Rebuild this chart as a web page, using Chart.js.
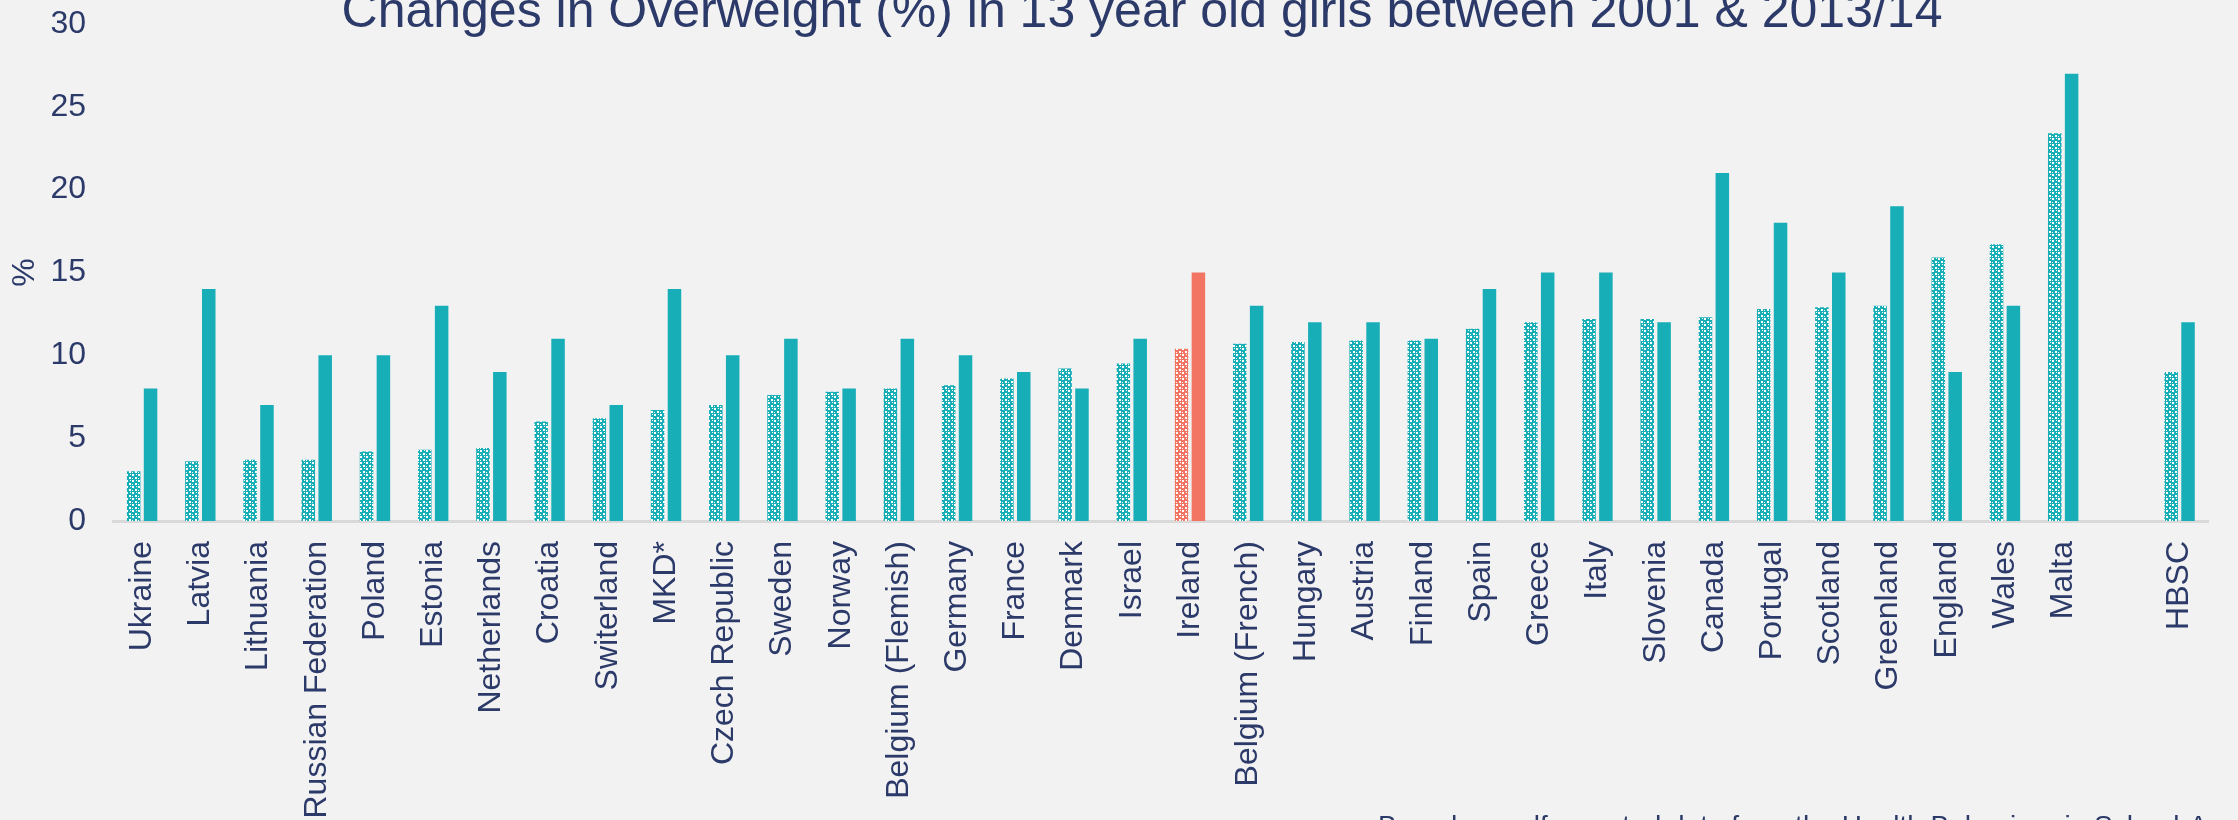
<!DOCTYPE html>
<html><head><meta charset="utf-8">
<script src="https://cdn.jsdelivr.net/npm/chart.js@4.4.1/dist/chart.umd.min.js"></script>
<style>
html,body{margin:0;padding:0;background:#F2F2F2;overflow:hidden;}
#wrap{position:relative;width:2238px;height:820px;}
</style></head><body>
<div id="wrap"><canvas id="c"></canvas></div>
<script>
const categories = ['Ukraine','Latvia','Lithuania','Russian Federation','Poland','Estonia','Netherlands','Croatia','Switerland','MKD*','Czech Republic','Sweden','Norway','Belgium (Flemish)','Germany','France','Denmark','Israel','Ireland','Belgium (French)','Hungary','Austria','Finland','Spain','Greece','Italy','Slovenia','Canada','Portugal','Scotland','Greenland','England','Wales','Malta','','HBSC'];
const overweight2001 = [3.0,3.6,3.7,3.7,4.2,4.3,4.4,6.0,6.2,6.7,7.0,7.6,7.8,8.0,8.2,8.6,9.2,9.5,10.4,10.7,10.8,10.9,10.9,11.6,12.0,12.2,12.2,12.3,12.8,12.9,13.0,15.9,16.7,23.4,null,9.0];
const overweight2013 = [8,14,7,10,10,13,9,11,7,14,10,11,8,11,10,9,8,11,15,13,12,12,11,14,15,15,12,21,18,15,19,9,13,27,null,12];
const yMin = 0, yMax = 30, yStep = 5;
const highlight = 'Ireland';
const titleText = 'Changes in Overweight (%) in 13 year old girls between 2001 & 2013/14';
const sourceText = 'Based on self-reported data from the Health Behaviour in School-Aged Children (HBSC) study';

const TEAL = '#17AEB7', RED = '#F27563', NAVY = '#2C3A69', FONT = "'Liberation Sans', Arial, sans-serif";

function makePattern(color){
  const t = document.createElement('canvas');
  t.width = 6; t.height = 6;
  const g = t.getContext('2d');
  g.fillStyle = color; g.fillRect(0,0,6,6);
  g.fillStyle = '#FFFFFF';
  g.fillRect(0,0,2,2);
  g.fillRect(3,3,2,2);
  g.fillRect(0,4,1,1);
  g.fillRect(4,0,1,1);
  return document.getElementById('c').getContext('2d').createPattern(t,'repeat');
}
const patTeal = makePattern(TEAL), patRed = makePattern(RED);

const textPlugin = {
  id: 'texts',
  afterDraw(chart){
    const ctx = chart.ctx;
    ctx.save();
    ctx.fillStyle = NAVY;
    ctx.textAlign = 'center';
    ctx.textBaseline = 'alphabetic';
    ctx.font = '50px ' + FONT;
    ctx.fillText(titleText, 1142, 27);
    ctx.textAlign = 'left';
    ctx.font = '28px ' + FONT;
    ctx.fillText(sourceText, 1378, 835);
    ctx.restore();
  }
};

new Chart(document.getElementById('c'), {
  type: 'bar',
  data: {
    labels: categories,
    datasets: [
      { label: '2001', data: overweight2001,
        backgroundColor: categories.map(c => c === highlight ? patRed : patTeal),
        borderWidth: 0, categoryPercentage: 0.58, barPercentage: 0.8 },
      { label: '2013/14', data: overweight2013,
        backgroundColor: categories.map(c => c === highlight ? RED : TEAL),
        borderWidth: 0, categoryPercentage: 0.58, barPercentage: 0.8 }
    ]
  },
  options: {
    responsive: true, maintainAspectRatio: false, animation: false,
    layout: { padding: 0 },
    plugins: { legend: { display: false }, title: { display: false }, tooltip: { enabled: false } },
    scales: {
      x: {
        grid: { display: false, drawTicks: false },
        border: { display: true, color: '#D9D9D9', width: 3 },
        ticks: { color: NAVY, font: { family: FONT, size: 32 }, minRotation: 90, maxRotation: 90, autoSkip: false, padding: 20 },
        afterFit(s){ s.height = 299; s.paddingTop = 0; }
      },
      y: {
        min: yMin, max: yMax,
        grid: { display: false, drawTicks: false },
        border: { display: false },
        ticks: { stepSize: yStep, color: NAVY, font: { family: FONT, size: 32 }, padding: 27 },
        title: { display: true, text: '%', color: NAVY, font: { family: FONT, size: 32 }, padding: { top: 6, bottom: 0 } },
        afterFit(s){ s.width = 113; s.paddingTop = 24; s.paddingBottom = 0; }
      }
    }
  },
  plugins: [textPlugin]
});
</script>
</body></html>
